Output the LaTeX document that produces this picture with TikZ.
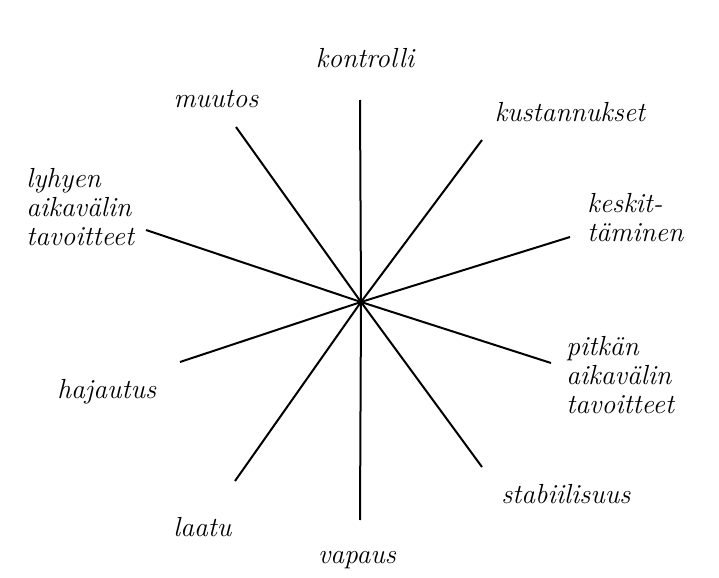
\documentclass[tikz,border=0pt]{standalone}
\begin{document}
\begin{tikzpicture}[x=0.5pt,y=-0.5pt,
  spoke/.style={line width=1pt,black},
  lbl/.style={inner sep=0pt,font=\fontsize{13.8}{14.5}\selectfont\itshape,align=left}]
\useasboundingbox (0,0) rectangle (719,578);
\coordinate (c) at (361,302);
\coordinate (eN) at (360,100);
\coordinate (eS) at (360,520);
\coordinate (eNE) at (482,140);
\coordinate (eNW) at (236,127);
\coordinate (eENE) at (570,237);
\coordinate (eWNW) at (146,230);
\coordinate (eESE) at (551,363);
\coordinate (eWSW) at (180,362);
\coordinate (eSE) at (482,467);
\coordinate (eSW) at (235,481);
\foreach \e in {eN,eS,eNE,eNW,eENE,eWNW,eESE,eWSW,eSE,eSW}
  \draw[spoke] (c) -- (\e);
\node[lbl,anchor=base] (kontrolli) at (365,68) {kontrolli};
\node[lbl,anchor=base] (muutos) at (216,107) {muutos};
\node[lbl,anchor=base] (kust) at (570,121) {kustannukset};
\node[lbl,anchor=base west] (lyhyen) at (26,245) {lyhyen\\aikavälin\\tavoitteet};
\node[lbl,anchor=base west] (keskit) at (587,241) {keskit-\\täminen};
\node[lbl,anchor=base west] (pitkan) at (566,413) {pitkän\\aikavälin\\tavoitteet};
\node[lbl,anchor=base west] (hajautus) at (57,398) {hajautus};
\node[lbl,anchor=base west] (stab) at (501,503) {stabiilisuus};
\node[lbl,anchor=base west] (laatu) at (173,536) {laatu};
\node[lbl,anchor=base] (vapaus) at (357,563) {vapaus};
\end{tikzpicture}
\end{document}
